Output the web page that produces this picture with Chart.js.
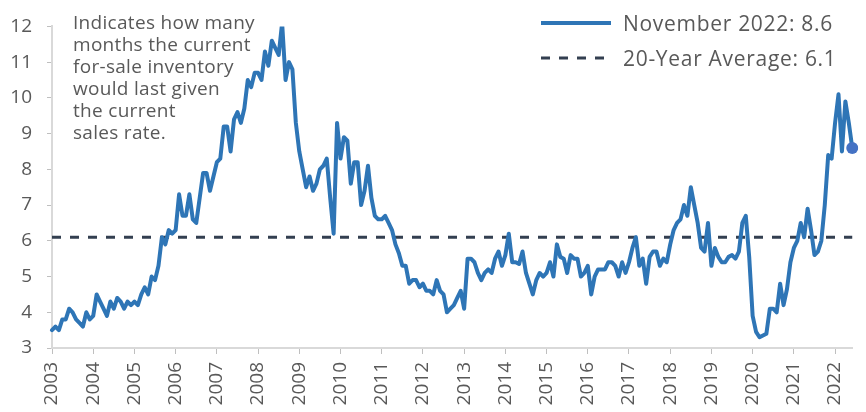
<!DOCTYPE html>
<html>
<head>
<meta charset="utf-8">
<script src="https://cdn.jsdelivr.net/npm/chart.js@4/dist/chart.umd.min.js"></script>
<style>
    body { margin: 0; background: #fff; }
    #wrap { position: relative; width: 866px; height: 412px; font-family: 'Open Sans', sans-serif; color: #595959; }
    #note { position: absolute; left: 73px; top: 11px; font-size: 19px; line-height: 22px; letter-spacing: 0.3px; }
    .key { position: absolute; left: 541px; height: 24px; display: flex; align-items: center; font-size: 21px; letter-spacing: 0.7px; white-space: nowrap; }
    .key svg { margin-right: 12px; }
</style>
</head>
<body>
<div id="wrap">
    <canvas id="chart" width="866" height="412"></canvas>
    <div id="note">Indicates how many<br>months the current<br>for-sale inventory<br>would last given<br>the current<br>sales rate.</div>
    <div class="key" style="top: 11px;">
        <svg width="70" height="8"><line x1="0" y1="4" x2="70" y2="4" stroke="#2E75B6" stroke-width="4"/></svg>
        <span id="key0"></span>
    </div>
    <div class="key" style="top: 46px;">
        <svg width="70" height="8"><line x1="0" y1="4" x2="70" y2="4" stroke="#333F50" stroke-width="3" stroke-dasharray="9 9"/></svg>
        <span id="key1"></span>
    </div>
</div>
<script>
// tick labels, one per year, placed every 12 months
const years = ['2003', '2004', '2005', '2006', '2007', '2008', '2009', '2010', '2011', '2012',
    '2013', '2014', '2015', '2016', '2017', '2018', '2019', '2020', '2021', '2022'];

// months' supply of new homes, monthly, ending November 2022
const supply = [
    3.5, 3.6, 3.5, 3.8, 3.8, 4.1, 4.0, 3.8, 3.7, 3.6, 4.0, 3.8,
    3.9, 4.5, 4.3, 4.1, 3.9, 4.3, 4.1, 4.4, 4.3, 4.1, 4.3, 4.2,
    4.3, 4.2, 4.5, 4.7, 4.5, 5.0, 4.9, 5.3, 6.1, 5.9, 6.3, 6.2,
    6.3, 7.3, 6.7, 6.7, 7.3, 6.6, 6.5, 7.2, 7.9, 7.9, 7.4, 7.8,
    8.2, 8.3, 9.2, 9.2, 8.5, 9.4, 9.6, 9.3, 9.7, 10.5, 10.3, 10.7,
    10.7, 10.5, 11.3, 10.9, 11.6, 11.4, 11.2, 12.1, 10.5, 11.0, 10.8, 9.3,
    8.5, 8.0, 7.5, 7.8, 7.4, 7.6, 8.0, 8.1, 8.3, 7.2, 6.2, 9.3,
    8.3, 8.9, 8.8, 7.6, 8.2, 8.2, 7.0, 7.4, 8.1, 7.2, 6.7, 6.6,
    6.6, 6.7, 6.5, 6.3, 5.9, 5.65, 5.3, 5.3, 4.8, 4.9, 4.9, 4.7,
    4.8, 4.6, 4.6, 4.5, 4.9, 4.6, 4.5, 4.0, 4.1, 4.2, 4.4, 4.6,
    4.1, 5.5, 5.5, 5.4, 5.1, 4.9, 5.1, 5.2, 5.1, 5.5, 5.7, 5.3,
    5.6, 6.2, 5.4, 5.4, 5.35, 5.7, 5.1, 4.8, 4.5, 4.9, 5.1, 5.0,
    5.1, 5.4, 5.0, 5.9, 5.55, 5.5, 5.1, 5.6, 5.5, 5.5, 5.0, 5.1,
    5.3, 4.5, 5.0, 5.2, 5.2, 5.2, 5.4, 5.4, 5.3, 5.0, 5.4, 5.1,
    5.4, 5.8, 6.1, 5.3, 5.5, 4.8, 5.55, 5.7, 5.7, 5.3, 5.5, 5.4,
    5.9, 6.3, 6.5, 6.6, 7.0, 6.7, 7.5, 7.0, 6.5, 5.8, 5.7, 6.5,
    5.3, 5.8, 5.55, 5.4, 5.4, 5.55, 5.6, 5.5, 5.7, 6.5, 6.7, 5.55,
    3.9, 3.45, 3.3, 3.35, 3.4, 4.1, 4.1, 4.0, 4.8, 4.2, 4.65, 5.4,
    5.8, 6.0, 6.5, 6.1, 6.9, 6.3, 5.6, 5.7, 6.0, 7.0, 8.4, 8.3,
    9.3, 10.1, 8.5, 9.9, 9.3, 8.6
];

const average = 6.1;
const seriesNames = ['November 2022:\u00a08.6', '20-Year Average:\u00a06.1'];

document.getElementById('key0').textContent = seriesNames[0];
document.getElementById('key1').textContent = seriesNames[1];

const labels = supply.map((v, i) => i % 12 === 0 ? years[i / 12] : '');
const last = supply.length - 1;

const tickFont = { family: "'Open Sans', sans-serif", size: 19 };

new Chart(document.getElementById('chart'), {
    type: 'line',
    data: {
        labels: labels,
        datasets: [{
            label: seriesNames[0],
            data: supply,
            borderColor: '#2E75B6',
            borderWidth: 4,
            borderJoinStyle: 'round',
            borderCapStyle: 'round',
            tension: 0,
            pointRadius: ctx => ctx.dataIndex === last ? 6 : 0,
            pointBackgroundColor: '#4472C4',
            pointBorderWidth: 0,
            order: 1
        }, {
            label: seriesNames[1],
            data: supply.map(() => average),
            borderColor: '#333F50',
            borderWidth: 3,
            borderDash: [9, 9],
            pointRadius: 0,
            order: 2
        }]
    },
    options: {
        responsive: false,
        animation: false,
        layout: { padding: { top: 14, right: 4 } },
        plugins: { legend: { display: false }, tooltip: { enabled: false } },
        scales: {
            x: {
                grid: { drawOnChartArea: false, color: '#bfbfbf', tickLength: 6 },
                border: { color: '#d9d9d9', width: 2 },
                ticks: {
                    autoSkip: false,
                    maxRotation: 90,
                    minRotation: 90,
                    padding: 8,
                    color: '#595959',
                    font: tickFont,
                    callback: function (val) {
                        const l = this.getLabelForValue(val);
                        return l === '' ? null : l;
                    }
                },
                afterFit: scale => { scale.height = 64; }
            },
            y: {
                min: 3,
                max: 12,
                grid: { drawOnChartArea: false, color: '#bfbfbf', tickLength: 5 },
                border: { color: '#d9d9d9', width: 2 },
                ticks: { stepSize: 1, padding: 15, color: '#595959', font: tickFont },
                afterFit: scale => { scale.width = 52; }
            }
        }
    }
});
</script>
</body>
</html>
